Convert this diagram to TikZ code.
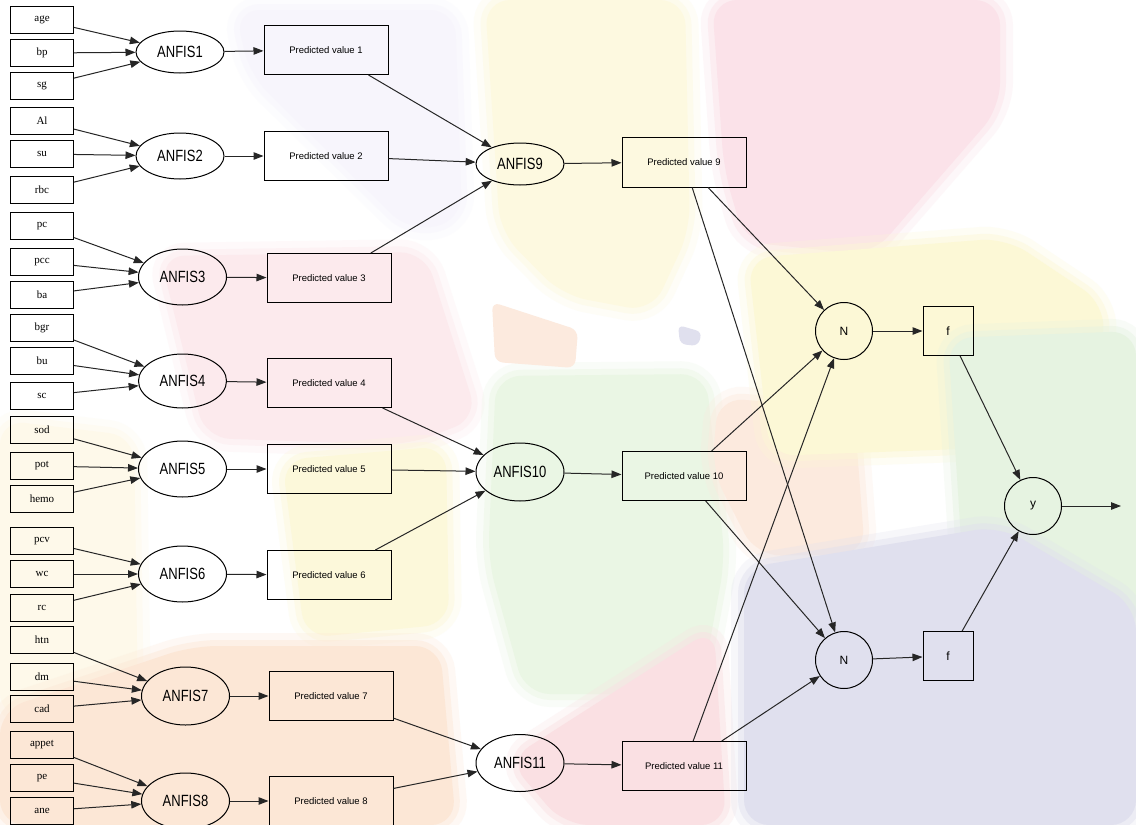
\documentclass[tikz,border=0pt]{standalone}
\usepackage{fontspec}
\usepackage{graphicx}
\setmainfont{Liberation Serif}
\newfontfamily\sansf{Liberation Sans}
\usetikzlibrary{shapes.geometric,arrows.meta}
\definecolor{wmpink}{RGB}{251,226,233}
\definecolor{wmcream}{RGB}{253,249,224}
\definecolor{wmlilac}{RGB}{247,245,252}
\definecolor{wmrose}{RGB}{252,234,237}
\definecolor{wmyel}{RGB}{252,248,218}
\definecolor{wmedge}{RGB}{254,249,234}
\definecolor{wmpeach}{RGB}{252,231,214}
\definecolor{wmgreen}{RGB}{234,246,228}
\definecolor{wmsalmon}{RGB}{252,234,222}
\definecolor{wmred}{RGB}{250,224,227}
\definecolor{wmryel}{RGB}{252,248,214}
\definecolor{wmrgreen}{RGB}{230,243,225}
\definecolor{wmlav}{RGB}{224,224,238}
\newcommand\talltext[1]{\scalebox{1}[1.25]{#1}}
\tikzset{
  wm/.style={rounded corners=25pt, draw=none,
    preaction={draw=#1, line width=26pt, draw opacity=0.25},
    preaction={draw=#1, line width=12pt, draw opacity=0.45},
    fill=#1},
  inbox/.style={draw, rectangle, minimum width=63pt, minimum height=27pt, inner sep=0pt, font=\fontsize{11}{12}\selectfont},
  anfis/.style={draw, ellipse, minimum width=88pt, inner sep=0pt, font=\sansf\fontsize{13}{14}\selectfont},
  pvbox/.style={draw, rectangle, minimum width=124pt, minimum height=49pt, inner sep=0pt, font=\sansf\fontsize{9.5}{11}\selectfont},
  nnode/.style={draw, circle, minimum size=57pt, inner sep=0pt, font=\sansf\fontsize{12}{13}\selectfont},
  fbox/.style={draw, rectangle, minimum width=50pt, minimum height=49pt, inner sep=0pt, font=\sansf\fontsize{12}{13}\selectfont},
  conn/.style={-{Triangle[length=10pt,width=7.5pt]}, line width=1pt, draw=black!85},
}
\begin{document}
\begin{tikzpicture}[x=1pt,y=-1pt, line width=1pt]
\useasboundingbox (0,0) rectangle (1136,825);
\fill[white] (0,0) rectangle (1136,825);
% ---- watermark background ----
\begin{scope}
\clip (0,0) rectangle (1136,825);
\path[wm=wmlilac] (235,10) -- (455,10) -- (462,220) -- (410,232) -- (250,75) -- cycle;
\path[wm=wmcream] (485,0) -- (685,0) -- (690,230) -- (652,312) -- (562,295) -- (500,232) -- cycle;
\path[wm=wmpink] (712,0) -- (1000,0) -- (1000,108) -- (872,255) -- (745,242) -- (724,170) -- cycle;
\path[wm=wmrose] (160,256) -- (425,252) -- (478,418) -- (408,445) -- (205,438) -- cycle;
\path[wm=wmyel] (282,460) -- (446,446) -- (449,624) -- (305,638) -- cycle;
\path[wm=wmedge] (0,420) -- (134,436) -- (138,712) -- (0,718) -- cycle;
\path[wm=wmpeach] (0,710) -- (192,646) -- (440,646) -- (456,825) -- (0,825) -- cycle;
\path[wm=wmgreen] (496,376) -- (706,374) -- (725,560) -- (700,694) -- (525,694) -- (488,560) -- cycle;
\path[wm=wmsalmon] (718,398) -- (854,408) -- (865,554) -- (756,556) -- (712,470) -- cycle;
\path[wm=wmred] (508,760) -- (714,628) -- (726,825) -- (564,825) -- cycle;
\path[wm=wmryel] (748,258) -- (1006,238) -- (1105,304) -- (1096,444) -- (770,456) -- cycle;
\path[wm=wmrgreen] (948,338) -- (1136,331) -- (1136,636) -- (966,616) -- cycle;
\path[wm=wmlav] (744,568) -- (1000,526) -- (1136,606) -- (1136,825) -- (744,825) -- cycle;
\fill[rounded corners=8pt, wmsalmon] (492,302) -- (578,330) -- (575,368) -- (495,362) -- cycle;
\fill[rounded corners=6pt, wmlav] (678,325) -- (702,332) -- (698,346) -- (680,344) -- cycle;
\end{scope}
% ---- inputs ----
\node[inbox] (age) at (42,20) {age};
\node[inbox] (bp) at (42,53) {bp};
\node[inbox] (sg) at (42,86) {sg};
\node[inbox] (Al) at (42,121) {Al};
\node[inbox] (su) at (42,154) {su};
\node[inbox] (rbc) at (42,190) {rbc};
\node[inbox] (pc) at (42,226) {pc};
\node[inbox] (pcc) at (42,262) {pcc};
\node[inbox] (ba) at (42,295) {ba};
\node[inbox] (bgr) at (42,328) {bgr};
\node[inbox] (bu) at (42,361) {bu};
\node[inbox] (sc) at (42,396) {sc};
\node[inbox] (sod) at (42,430) {sod};
\node[inbox] (pot) at (42,466) {pot};
\node[inbox] (hemo) at (42,499) {hemo};
\node[inbox] (pcv) at (42,541) {pcv};
\node[inbox] (wc) at (42,574) {wc};
\node[inbox] (rc) at (42,608) {rc};
\node[inbox] (htn) at (42,640) {htn};
\node[inbox] (dm) at (42,677) {dm};
\node[inbox] (cad) at (42,709) {cad};
\node[inbox] (appet) at (42,745) {appet};
\node[inbox] (pe) at (42,778) {pe};
\node[inbox] (ane) at (42,811) {ane};
% ---- first ANFIS layer ----
\node[anfis, minimum height=42pt] (A1) at (180,52) {\talltext{ANFIS1}};
\node[anfis, minimum height=46pt] (A2) at (180,156) {\talltext{ANFIS2}};
\node[anfis, minimum height=56pt] (A3) at (182.5,277) {\talltext{ANFIS3}};
\node[anfis, minimum height=54pt] (A4) at (182.5,381) {\talltext{ANFIS4}};
\node[anfis, minimum height=56pt] (A5) at (182.5,469) {\talltext{ANFIS5}};
\node[anfis, minimum height=56pt] (A6) at (182.5,574) {\talltext{ANFIS6}};
\node[anfis, minimum height=58pt] (A7) at (185.5,696) {\talltext{ANFIS7}};
\node[anfis, minimum height=56pt] (A8) at (185.5,801) {\talltext{ANFIS8}};
% ---- predicted values ----
\node[pvbox] (P1) at (326,50) {Predicted value 1};
\node[pvbox] (P2) at (326,156) {Predicted value 2};
\node[pvbox] (P3) at (329,278) {Predicted value 3};
\node[pvbox] (P4) at (329,383) {Predicted value 4};
\node[pvbox] (P5) at (329,469) {Predicted value 5};
\node[pvbox] (P6) at (329,575) {Predicted value 6};
\node[pvbox] (P7) at (331,696) {Predicted value 7};
\node[pvbox] (P8) at (331,801) {Predicted value 8};
% ---- second ANFIS layer ----
\node[anfis, minimum height=42pt] (A9) at (520,164) {\talltext{ANFIS9}};
\node[anfis, minimum height=58pt] (A10) at (520,472) {\talltext{ANFIS10}};
\node[anfis, minimum height=57pt] (A11) at (520,763) {\talltext{ANFIS11}};
\node[pvbox, minimum height=50pt] (P9) at (684,162) {Predicted value 9};
\node[pvbox] (P10) at (684,476) {Predicted value 10};
\node[pvbox] (P11) at (684,766) {Predicted value 11};
% ---- output part ----
\node[nnode] (N1) at (844,331) {N};
\node[nnode] (N2) at (844,660) {N};
\node[fbox] (F1) at (948,331) {f};
\node[fbox] (F2) at (948,656) {f};
\node[nnode] (Y) at (1033,506) {y};
\coordinate (out) at (1121,506);
% ---- connectors ----
\foreach \s in {age,bp,sg} \draw[conn] (\s) -- (A1);
\foreach \s in {Al,su,rbc} \draw[conn] (\s) -- (A2);
\foreach \s in {pc,pcc,ba} \draw[conn] (\s) -- (A3);
\foreach \s in {bgr,bu,sc} \draw[conn] (\s) -- (A4);
\foreach \s in {sod,pot,hemo} \draw[conn] (\s) -- (A5);
\foreach \s in {pcv,wc,rc} \draw[conn] (\s) -- (A6);
\foreach \s in {htn,dm,cad} \draw[conn] (\s) -- (A7);
\foreach \s in {appet,pe,ane} \draw[conn] (\s) -- (A8);
\foreach \i in {1,...,8} \draw[conn] (A\i) -- (P\i);
\foreach \s in {P1,P2,P3} \draw[conn] (\s) -- (A9);
\foreach \s in {P4,P5,P6} \draw[conn] (\s) -- (A10);
\foreach \s in {P7,P8} \draw[conn] (\s) -- (A11);
\draw[conn] (A9) -- (P9);
\draw[conn] (A10) -- (P10);
\draw[conn] (A11) -- (P11);
\foreach \s in {P9,P10,P11} {
  \draw[conn] (\s) -- (N1);
  \draw[conn] (\s) -- (N2);
}
\draw[conn] (N1) -- (F1);
\draw[conn] (N2) -- (F2);
\draw[conn] (F1) -- (Y);
\draw[conn] (F2) -- (Y);
\draw[conn] (Y) -- (out);
\end{tikzpicture}
\end{document}
